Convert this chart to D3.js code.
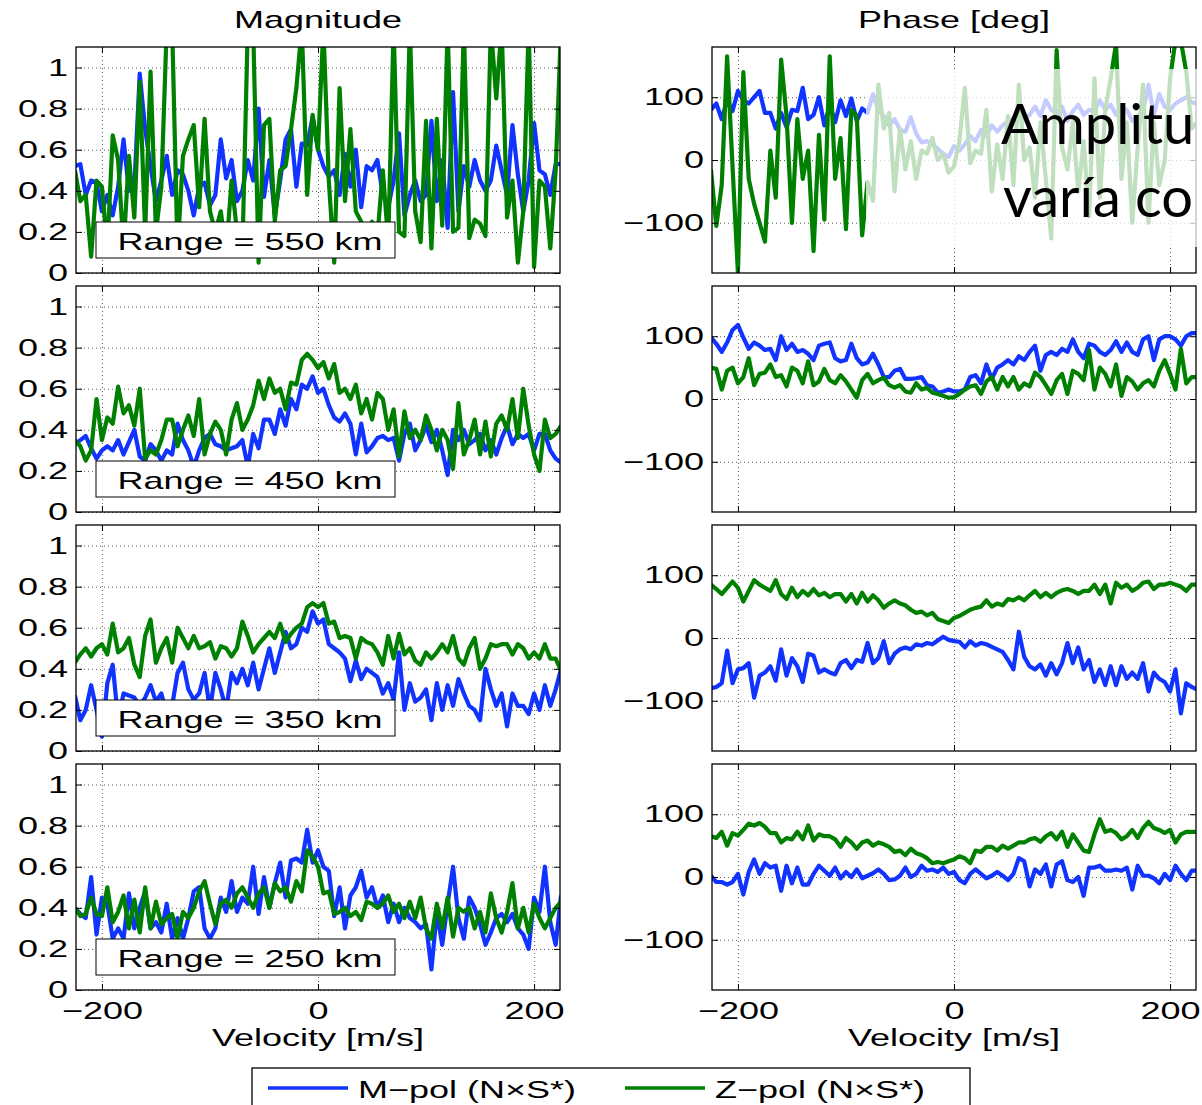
<!DOCTYPE html>
<html>
<head>
<meta charset="utf-8">
<script src="https://cdn.jsdelivr.net/npm/d3@7"></script>
<style>
  body { margin: 0; background: #fff; }
</style>
</head>
<body>
<script>
// velocity samples [m/s]
const velocity = [-225,-220,-215,-210,-205,-200,-195,-190,-185,-180,-175,-170,-165,-160,-155,-150,-145,-140,-135,-130,
  -125,-120,-115,-110,-105,-100,-95,-90,-85,-80,-75,-70,-65,-60,-55,-50,-45,-40,-35,-30,-25,-20,-15,-10,-5,
  0,5,10,15,20,25,30,35,40,45,50,55,60,65,70,75,80,85,90,95,100,105,110,115,120,125,130,135,140,145,150,
  155,160,165,170,175,180,185,190,195,200,205,210,215,220,225];

const ranges = [550, 450, 350, 250];

// magnitude, M-pol and Z-pol
const magM550 = [0.52,0.53,0.38,0.45,0.44, 0.30,0.38,0.28,0.42,0.65, 0.40,0.42,0.97,0.70,0.52, 0.35,0.45,0.57,0.38,0.50, 0.48,0.40,0.28,0.42,0.44, 0.33,0.38,0.65,0.46,0.55, 0.35,0.40,0.55,0.45,0.80, 0.37,0.55,0.28,0.45,0.65, 0.70,0.42,0.63,0.62,0.76, 0.60,0.52,0.47,0.50,0.38, 0.58,0.42,0.60,0.32,0.52, 0.50,0.55,0.38,0.32,0.45, 0.68,0.28,0.38,0.45,0.35, 0.38,0.74,0.35,0.55,0.22, 0.88,0.30,0.52,0.42,0.55, 0.45,0.40,0.45,0.62,0.50, 0.38,0.72,0.48,0.30,0.45, 0.73,0.50,0.48,0.38,0.53, 0.53];
const magZ550 = [0.50,0.35,0.38,0.08,0.45, 0.42,0.12,0.67,0.55,0.12, 0.57,0.27,0.93,0.20,0.98, 0.20,0.42,1.20,1.20,0.10, 0.57,0.65,0.72,0.32,0.75, 0.30,0.20,0.30,0.10,0.45, 0.20,0.10,1.20,1.20,0.05, 0.72,0.75,0.25,0.50,0.52, 0.70,0.90,1.20,0.38,0.77, 0.60,1.20,0.45,0.05,0.90, 0.35,0.70,0.30,0.25,0.20, 0.25,0.18,0.50,0.15,1.20, 0.20,0.18,1.20,0.30,0.15, 0.74,0.12,0.75,0.23,1.20, 0.20,0.22,1.20,0.17,0.26, 0.24,0.18,1.20,0.85,1.20, 0.27,0.45,0.05,0.30,1.20, 0.03,0.45,0.42,0.12,0.50, 1.20];
const magM450 = [0.33,0.35,0.37,0.31,0.26, 0.30,0.32,0.30,0.35,0.28, 0.34,0.40,0.27,0.25,0.33, 0.30,0.25,0.30,0.28,0.43, 0.35,0.30,0.22,0.30,0.36, 0.38,0.33,0.32,0.30,0.31, 0.32,0.35,0.22,0.38,0.31, 0.45,0.45,0.38,0.50,0.42, 0.55,0.50,0.62,0.60,0.66, 0.58,0.60,0.52,0.46,0.44, 0.48,0.43,0.28,0.43,0.29, 0.32,0.36,0.37,0.35,0.36, 0.25,0.38,0.43,0.30,0.35, 0.42,0.34,0.40,0.30,0.18, 0.40,0.35,0.40,0.33,0.35, 0.38,0.30,0.35,0.28,0.36, 0.42,0.33,0.38,0.36,0.38, 0.30,0.38,0.38,0.30,0.26, 0.24];
const magZ450 = [0.35,0.32,0.25,0.30,0.55, 0.35,0.46,0.43,0.61,0.48, 0.52,0.42,0.60,0.26,0.30, 0.28,0.35,0.45,0.45,0.32, 0.40,0.47,0.37,0.55,0.28, 0.38,0.44,0.40,0.28,0.45, 0.53,0.40,0.45,0.52,0.64, 0.55,0.65,0.58,0.60,0.50, 0.63,0.62,0.74,0.77,0.74, 0.70,0.73,0.65,0.72,0.58, 0.60,0.55,0.62,0.48,0.55, 0.45,0.58,0.55,0.40,0.50, 0.27,0.49,0.36,0.40,0.35, 0.47,0.40,0.30,0.40,0.35, 0.21,0.53,0.28,0.35,0.45, 0.28,0.44,0.27,0.43,0.47, 0.40,0.55,0.36,0.60,0.42, 0.28,0.20,0.45,0.36,0.38, 0.42];
const magM350 = [0.27,0.15,0.20,0.32,0.20, 0.07,0.33,0.42,0.15,0.28, 0.27,0.26,0.22,0.26,0.32, 0.24,0.28,0.18,0.22,0.38, 0.43,0.30,0.25,0.28,0.38, 0.20,0.38,0.30,0.20,0.38, 0.33,0.40,0.32,0.43,0.30, 0.40,0.50,0.38,0.48,0.58, 0.50,0.52,0.60,0.58,0.68, 0.62,0.64,0.52,0.50,0.48, 0.45,0.34,0.44,0.35,0.40, 0.38,0.36,0.28,0.33,0.25, 0.48,0.20,0.33,0.24,0.26, 0.30,0.15,0.33,0.20,0.32, 0.22,0.35,0.28,0.22,0.20, 0.15,0.40,0.30,0.22,0.28, 0.12,0.28,0.22,0.22,0.18, 0.28,0.20,0.32,0.22,0.30, 0.40];
const magZ350 = [0.43,0.47,0.50,0.46,0.50, 0.52,0.47,0.62,0.48,0.50, 0.55,0.42,0.36,0.56,0.64, 0.43,0.50,0.55,0.43,0.60, 0.55,0.50,0.56,0.50,0.51, 0.53,0.45,0.51,0.50,0.46, 0.50,0.63,0.56,0.48,0.52, 0.55,0.58,0.55,0.62,0.53, 0.57,0.60,0.62,0.70,0.72, 0.70,0.72,0.62,0.63,0.55, 0.56,0.55,0.45,0.55,0.53, 0.52,0.48,0.42,0.56,0.45, 0.57,0.47,0.50,0.44,0.42, 0.48,0.45,0.48,0.52,0.48, 0.56,0.45,0.42,0.50,0.55, 0.40,0.45,0.52,0.51,0.52, 0.52,0.47,0.52,0.50,0.45, 0.48,0.45,0.52,0.45,0.45, 0.39];
const magM250 = [0.40,0.37,0.35,0.55,0.27, 0.45,0.42,0.25,0.30,0.25, 0.47,0.30,0.40,0.48,0.30, 0.33,0.28,0.42,0.25,0.35, 0.25,0.35,0.48,0.50,0.30, 0.25,0.30,0.45,0.38,0.53, 0.38,0.45,0.42,0.60,0.37, 0.55,0.40,0.52,0.62,0.45, 0.63,0.64,0.62,0.78,0.62, 0.68,0.60,0.58,0.36,0.50, 0.30,0.46,0.50,0.58,0.45, 0.50,0.40,0.46,0.33,0.42, 0.33,0.40,0.35,0.33,0.30, 0.32,0.10,0.38,0.22,0.42, 0.60,0.35,0.25,0.45,0.40, 0.32,0.22,0.28,0.35,0.37, 0.33,0.37,0.30,0.27,0.20, 0.45,0.38,0.60,0.33,0.22, 0.46];
const magZ250 = [0.40,0.36,0.37,0.45,0.37, 0.36,0.50,0.33,0.38,0.46, 0.30,0.44,0.28,0.50,0.30, 0.43,0.32,0.35,0.37,0.25, 0.38,0.35,0.40,0.48,0.53, 0.42,0.32,0.42,0.44,0.40, 0.47,0.50,0.45,0.40,0.47, 0.50,0.40,0.52,0.48,0.50, 0.43,0.53,0.48,0.68,0.65, 0.60,0.47,0.48,0.37,0.38, 0.40,0.36,0.38,0.34,0.43, 0.42,0.40,0.42,0.46,0.38, 0.42,0.35,0.43,0.35,0.45, 0.30,0.25,0.42,0.30,0.45, 0.26,0.40,0.38,0.40,0.30, 0.38,0.28,0.47,0.35,0.28, 0.38,0.52,0.30,0.40,0.28, 0.42,0.35,0.30,0.35,0.40, 0.43];

// phase [deg], M-pol and Z-pol
const phM550 = [80,90,65,95,78, 110,95,90,100,110, 75,75,50,75,52, 80,78,115,65,72, 100,55,88,60,95, 70,98,62,82,75, 105,80,70,55,65, 48,45,68,42,28, 30,25,18,10,5, 22,15,25,38,30, 48,38,55,45,55, 62,66,80,65,72, 85,70,95,80,75, 85,62,78,88,72, 80,78,95,80,88, 72,85,80,62,70, 78,120,72,105,85, 80,90,95,100,92, 90];
const phZ550 = [-15,-105,-40,165,-10, -180,140,-30,-70,-100, -130,15,-60,160,70, -100,65,-30,15,-145, 40,-95,165,-30,35, -110,80,70,-120,-35, -65,120,50,75,-50, 50,-15,30,-30,15, 10,35,0,10,-20, -10,30,115,-5,15, 10,80,-50,25,-30, 70,-40,120,0,20, -60,60,-30,-125,175, 20,-15,60,-50,30, -90,130,-60,80,130, 185,-30,60,-100,20, 120,-100,60,-40,0, 130,190,190,140,50, 60];
const phM450 = [98,88,75,90,110, 118,98,80,90,85, 78,80,62,100,78, 88,75,78,72,62, 85,88,90,65,60, 62,88,65,55,58, 72,55,35,35,45, 48,32,32,33,35, 22,20,10,12,15, 12,12,15,35,38, 25,55,32,50,55, 62,55,68,62,75, 85,45,70,75,70, 80,75,95,75,65, 88,85,75,70,78, 92,75,90,75,70, 95,100,62,95,100, 100,95,85,100,105, 105];
const phZ450 = [50,48,15,45,50, 25,35,65,22,40, 42,55,35,38,20, 50,45,25,60,22, 28,48,30,25,38, 28,15,2,30,40, 25,30,34,22,18, 22,12,10,25,15, 18,10,8,5,2, 3,8,15,20,22, 8,28,35,15,35, 20,35,15,25,20, 42,35,22,8,30, 40,8,45,40,30, 78,15,50,40,20, 55,5,35,28,15, 25,30,20,45,62, 40,15,80,25,35, 35];
const phM350 = [-80,-78,-72,-20,-72, -50,-48,-40,-95,-60, -55,-45,-68,-18,-60, -32,-45,-70,-25,-28, -55,-50,-55,-58,-40, -35,-48,-35,-38,-8, -40,-32,-5,-40,-25, -18,-15,-18,-10,-12, -8,-10,-4,2,-3, -5,-6,-15,-5,-12, -8,-10,-14,-18,-22, -35,-50,10,-30,-45, -50,-42,-60,-40,-58, -40,-8,-40,-15,-50, -35,-70,-50,-75,-45, -75,-45,-65,-55,-65, -40,-85,-55,-65,-70, -85,-50,-120,-72,-78, -82];
const phZ350 = [85,78,70,80,90, 80,58,75,92,85, 80,75,92,70,62, 80,65,75,68,78, 68,72,65,70,70, 58,70,55,72,58, 68,60,48,55,60, 55,52,45,40,42, 36,40,30,27,24, 32,35,40,45,48, 50,60,50,55,52, 62,60,65,60,68, 75,65,72,65,72, 76,78,75,70,75, 75,85,70,85,55, 88,80,85,75,80, 88,90,78,85,85, 88,85,82,75,85, 85];
const phM250 = [2,-8,-8,-12,-8, 5,-28,8,28,5, 22,15,18,-22,18, -10,15,-12,-12,5, 18,10,2,15,-2, 8,0,12,-2,2, 6,12,5,-5,-4, 2,15,0,5,18, 10,12,8,15,5, 8,-5,-10,5,12, 5,-2,2,8,2, -5,5,30,25,-15, 12,5,20,-15,20, 25,-5,-8,0,-30, 15,15,18,10,10, 12,10,15,-20,18, 2,2,-2,-10,5, -5,18,5,-5,10, 10];
const phZ250 = [65,62,72,50,70, 66,75,85,82,86, 80,70,70,55,62, 60,72,60,82,58, 68,65,65,60,48, 62,55,45,55,58, 50,55,52,48,40, 42,35,45,38,35, 30,22,24,22,25, 28,33,30,22,42, 40,48,48,42,50, 45,50,55,55,60, 62,56,65,70,60, 72,48,68,55,42, 40,68,92,72,75, 70,60,65,75,62, 78,88,78,75,70, 75,55,68,72,72, 72];

const magTicks = [0, 0.2, 0.4, 0.6, 0.8, 1];
const phaseTicks = [-100, 0, 100];
const velTicks = [-200, 0, 200];
const seriesNames = ['M\u2212pol (N\u00d7S*)', 'Z\u2212pol (N\u00d7S*)'];
const colors = ['#1133ff', '#008000'];
const slideLines = ['Amplitu', 'varía co'];

const panels = [
  { range: 550, mag: [magM550, magZ550], phase: [phM550, phZ550] },
  { range: 450, mag: [magM450, magZ450], phase: [phM450, phZ450] },
  { range: 350, mag: [magM350, magZ350], phase: [phM350, phZ350] },
  { range: 250, mag: [magM250, magZ250], phase: [phM250, phZ250] }
];

const width = 1202;
const height = 1105;
const panelW = 484;
const panelH = 226;
const colX = [76, 712];
const rowY = [47, 286, 525, 764];
const SX = 1.5; // the figure's text is stretched sideways
const font = "'Liberation Sans', Arial, Helvetica, sans-serif";

const svg = d3.select('body').append('svg')
  .attr('width', width).attr('height', height)
  .style('font-family', font);

svg.append('rect').attr('width', width).attr('height', height).attr('fill', '#fff');

function wideText(parent, x, y, str, anchor) {
  return parent.append('text')
    .attr('transform', `translate(${x},${y}) scale(${SX},1)`)
    .attr('text-anchor', anchor)
    .attr('font-size', 24)
    .attr('fill', '#000')
    .text(str);
}

const signed = (d) => (d < 0 ? '\u2212' + Math.abs(d) : String(d));

wideText(svg, colX[0] + panelW / 2, 28, 'Magnitude', 'middle');
wideText(svg, colX[1] + panelW / 2, 28, 'Phase [deg]', 'middle');

panels.forEach((p, r) => {
  [0, 1].forEach((c) => {
    const x0 = colX[c];
    const y0 = rowY[r];
    const x = d3.scaleLinear().domain([-224, 224]).range([x0, x0 + panelW]);
    const y = c === 0
      ? d3.scaleLinear().domain([0, 1.1]).range([y0 + panelH, y0])
      : d3.scaleLinear().domain([-180, 180]).range([y0 + panelH, y0]);
    const yTicks = c === 0 ? magTicks : phaseTicks;
    const clipId = `clip-${r}-${c}`;

    svg.append('clipPath').attr('id', clipId)
      .append('rect').attr('x', x0).attr('y', y0).attr('width', panelW).attr('height', panelH);

    const g = svg.append('g');

    // dotted grid
    g.append('g')
      .attr('transform', `translate(${x0},0)`)
      .call(d3.axisLeft(y).tickValues(yTicks).tickSize(-panelW).tickFormat(''))
      .call((s) => s.select('.domain').remove())
      .selectAll('line').attr('stroke', '#333').attr('stroke-width', 0.8).attr('stroke-dasharray', '1,3');
    g.append('g')
      .attr('transform', `translate(0,${y0 + panelH})`)
      .call(d3.axisBottom(x).tickValues(velTicks).tickSize(-panelH).tickFormat(''))
      .call((s) => s.select('.domain').remove())
      .selectAll('line').attr('stroke', '#333').attr('stroke-width', 0.8).attr('stroke-dasharray', '1,3');

    // data lines
    const values = c === 0 ? p.mag : p.phase;
    values.forEach((vals, k) => {
      g.append('path')
        .datum(velocity.map((v, i) => [v, vals[i]]))
        .attr('clip-path', `url(#${clipId})`)
        .attr('fill', 'none')
        .attr('stroke', colors[k])
        .attr('stroke-width', 4.2)
        .attr('stroke-linejoin', 'round')
        .attr('d', d3.line().x((d) => x(d[0])).y((d) => y(d[1])));
    });

    // axes with inward ticks
    const yAxis = g.append('g')
      .attr('transform', `translate(${x0},0)`)
      .call(d3.axisLeft(y).tickValues(yTicks).tickSize(-6).tickPadding(8).tickFormat(signed));
    yAxis.selectAll('text')
      .attr('font-size', 24).attr('font-family', font).attr('fill', '#000')
      .attr('x', -8 / SX).attr('transform', `scale(${SX},1)`);
    g.append('g')
      .attr('transform', `translate(${x0 + panelW},0)`)
      .call(d3.axisRight(y).tickValues(yTicks).tickSize(-6).tickFormat(''));
    g.append('g')
      .attr('transform', `translate(0,${y0})`)
      .call(d3.axisTop(x).tickValues(velTicks).tickSize(-6).tickFormat(''));
    const xAxis = g.append('g')
      .attr('transform', `translate(0,${y0 + panelH})`)
      .call(d3.axisBottom(x).tickValues(velTicks).tickSize(-6).tickPadding(12)
        .tickFormat(r === panels.length - 1 ? signed : ''));
    xAxis.selectAll('text')
      .attr('font-size', 24).attr('font-family', font).attr('fill', '#000')
      .attr('transform', `scale(${SX},1)`);
    g.selectAll('.domain').remove();
    g.selectAll('.tick line').filter(function () { return !this.getAttribute('stroke-dasharray'); })
      .attr('stroke', '#000');

    g.append('rect')
      .attr('x', x0).attr('y', y0).attr('width', panelW).attr('height', panelH)
      .attr('fill', 'none').attr('stroke', '#000').attr('stroke-width', 1.3);

    if (c === 0) {
      g.append('rect')
        .attr('x', x0 + 20).attr('y', y0 + panelH - 51).attr('width', 299).attr('height', 36)
        .attr('fill', '#fff').attr('stroke', '#000').attr('stroke-width', 1);
      wideText(g, x0 + 174, y0 + panelH - 23, `Range = ${p.range} km`, 'middle');
    }

    if (r === panels.length - 1) {
      wideText(svg, x0 + panelW / 2, 1046, 'Velocity [m/s]', 'middle');
    }
  });
});

// slide overlay on the top phase panel
svg.append('rect')
  .attr('x', 866).attr('y', 69).attr('width', width - 866).attr('height', 178)
  .attr('fill', '#fff').attr('fill-opacity', 0.75);
slideLines.forEach((str, k) => {
  svg.append('text')
    .attr('x', 1001 + k * 2).attr('y', 144 + k * 73)
    .attr('font-family', 'Lato, sans-serif').attr('font-size', 56).attr('fill', '#000')
    .text(str);
});

// legend
const legend = svg.append('g');
legend.append('rect')
  .attr('x', 252).attr('y', 1068).attr('width', 718).attr('height', 60)
  .attr('fill', '#fff').attr('stroke', '#000').attr('stroke-width', 1.3);
const legendX = [268, 625];
seriesNames.forEach((name, k) => {
  legend.append('line')
    .attr('x1', legendX[k]).attr('x2', legendX[k] + 80)
    .attr('y1', 1088).attr('y2', 1088)
    .attr('stroke', colors[k]).attr('stroke-width', 3.6);
  wideText(legend, legendX[k] + 90, 1098, name, 'start');
});
</script>
</body>
</html>
